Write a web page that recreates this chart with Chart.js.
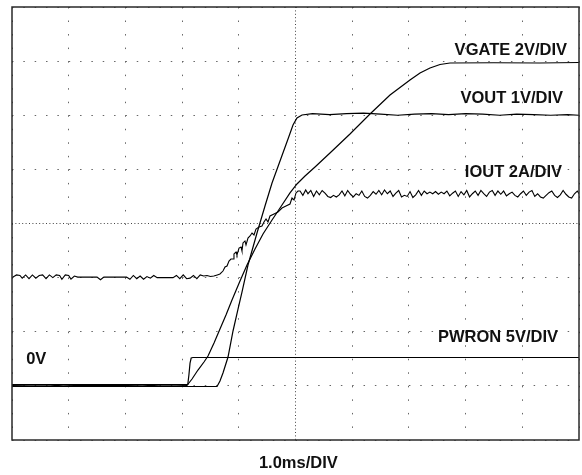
<!DOCTYPE html>
<html><head><meta charset="utf-8">
<script src="https://cdn.jsdelivr.net/npm/chart.js@4.4.1/dist/chart.umd.min.js"></script>
<style>html,body{margin:0;padding:0;background:#fff}#wrap{width:582px;height:475px;position:relative}</style>
</head><body><div id="wrap"><canvas id="c"></canvas></div>
<script>
// Oscilloscope screen: 10 horizontal divisions x 8 vertical divisions (values in divisions)
const xDivisions = [0, 10];
const yDivisions = [0, 8];
const timeBaseLabel = '1.0ms/DIV';
const traceLabels = ['VGATE 2V/DIV', 'VOUT 1V/DIV', 'IOUT 2A/DIV', 'PWRON 5V/DIV', '0V'];

const pwronX = [0, 3.10, 3.12, 3.14, 3.16, 3.19, 10];
const pwronY = [1.025, 1.025, 1.20, 1.42, 1.515, 1.524, 1.524];

const voutX = [0, 3.616, 3.668, 3.721, 3.810, 3.898, 3.986, 4.056, 4.162, 4.321, 4.462, 4.586, 4.727, 4.868, 4.956, 5.026, 5.115,
  5.3, 5.6, 5.9, 6.2, 6.5, 6.8, 7.1, 7.4, 7.7, 8.0, 8.3, 8.6, 8.9, 9.2, 9.5, 9.8, 10];
const voutY = [0.988, 0.988, 1.090, 1.238, 1.533, 2.014, 2.420, 2.734, 3.233, 3.824, 4.323, 4.748, 5.155, 5.561, 5.820, 5.949, 6.005,
  6.03, 6.01, 6.03, 6.04, 6.02, 6.00, 6.02, 6.03, 6.01, 6.03, 6.02, 6.00, 6.02, 6.01, 6.00, 6.01, 6.00];

const vgateX = [0, 0.6, 0.9, 1.5, 2.3, 2.7, 3.086, 3.175, 3.280, 3.386, 3.457, 3.563, 3.668, 3.774, 3.880, 4.021, 4.145, 4.286, 4.427,
  4.586, 4.762, 4.903, 5.026, 5.168, 5.344, 5.608, 5.961, 6.314, 6.667, 7.019, 7.196, 7.372, 7.549, 7.725, 8.5, 9.3, 10];
const vgateY = [1.007, 1.02, 1.00, 1.015, 1.00, 1.02, 1.007, 1.127, 1.293, 1.441, 1.552, 1.792, 2.051, 2.309, 2.587, 2.938, 3.233, 3.529, 3.806,
  4.065, 4.342, 4.564, 4.730, 4.878, 5.044, 5.303, 5.654, 6.023, 6.374, 6.651, 6.781, 6.873, 6.938, 6.965, 6.97, 6.965, 6.975];

const ioutX = [0.00, 0.08, 0.14, 0.18, 0.24, 0.30, 0.36, 0.42, 0.48, 0.54, 0.60, 0.66, 0.72, 0.78, 0.84, 0.88, 0.94, 1.00, 1.04, 1.10,
  1.16, 1.20, 1.50, 1.56, 1.62, 2.02, 2.08, 2.14, 2.20, 2.26, 2.32, 2.38, 2.44, 2.50, 2.56, 2.62, 2.84, 2.90, 2.96, 3.02, 3.08, 3.14,
  3.20, 3.26, 3.32, 3.38, 3.44, 3.50, 3.56, 3.62,
  3.668, 3.721, 3.757, 3.792, 3.827, 3.862, 3.898, 3.915, 3.951, 3.968, 4.004, 4.039, 4.056, 4.074, 4.109, 4.127, 4.162, 4.198,
  4.233, 4.268, 4.303, 4.356, 4.409, 4.444, 4.480, 4.515, 4.550, 4.621, 4.691, 4.762, 4.832, 4.903, 4.938, 4.974, 5.009, 5.044,
  5.08, 5.13, 5.18, 5.22, 5.27, 5.32, 5.37, 5.42, 5.47, 5.52, 5.57, 5.62, 5.67, 5.72, 5.77, 5.82, 5.87, 5.92, 5.97, 6.02,
  6.07, 6.12, 6.17, 6.22, 6.27, 6.32, 6.37, 6.42, 6.47, 6.52, 6.57, 6.62, 6.67, 6.72, 6.77, 6.82, 6.87, 6.92, 6.97, 7.02,
  7.07, 7.12, 7.17, 7.22, 7.27, 7.32, 7.37, 7.42, 7.47, 7.52, 7.57, 7.62, 7.67, 7.72, 7.77, 7.82, 7.87, 7.92, 7.97, 8.02,
  8.07, 8.12, 8.17, 8.22, 8.27, 8.32, 8.37, 8.42, 8.47, 8.52, 8.57, 8.62, 8.67, 8.72, 8.77, 8.82, 8.87, 8.92, 8.97, 9.02,
  9.07, 9.12, 9.17, 9.22, 9.27, 9.32, 9.37, 9.42, 9.47, 9.52, 9.57, 9.62, 9.67, 9.72, 9.77, 9.82, 9.87, 9.92, 9.97, 10.0];
const ioutY = [3.00, 3.05, 3.04, 2.99, 3.05, 2.98, 3.05, 2.99, 3.04, 3.05, 2.98, 3.05, 3.00, 3.05, 3.04, 2.97, 3.05, 3.04, 2.97, 3.03,
  3.01, 3.01, 3.01, 2.96, 3.01, 3.01, 2.97, 3.04, 2.98, 3.03, 2.97, 3.02, 2.99, 3.04, 3.00, 3.00, 3.00, 3.04, 2.98, 3.05, 2.98, 2.99,
  3.04, 2.98, 3.05, 3.03, 3.04, 3.02, 3.03, 3.05,
  3.067, 3.122, 3.196, 3.215, 3.307, 3.344, 3.344, 3.437, 3.473, 3.418, 3.547, 3.566, 3.492, 3.640, 3.677, 3.603, 3.732, 3.769,
  3.824, 3.788, 3.898, 3.935, 3.954, 4.028, 4.083, 4.028, 4.139, 4.176, 4.212, 4.286, 4.323, 4.360, 4.471, 4.434, 4.564, 4.600,
  4.60, 4.52, 4.62, 4.55, 4.61, 4.50, 4.60, 4.53, 4.61, 4.56, 4.50, 4.48, 4.52, 4.49, 4.53, 4.60, 4.51, 4.61, 4.54, 4.49,
  4.55, 4.52, 4.60, 4.50, 4.47, 4.52, 4.59, 4.54, 4.61, 4.53, 4.62, 4.55, 4.60, 4.50, 4.56, 4.61, 4.49, 4.52, 4.50, 4.59,
  4.48, 4.53, 4.61, 4.52, 4.60, 4.55, 4.58, 4.55, 4.59, 4.54, 4.58, 4.55, 4.60, 4.51, 4.56, 4.60, 4.50, 4.59, 4.53, 4.61,
  4.49, 4.55, 4.60, 4.52, 4.61, 4.55, 4.50, 4.58, 4.61, 4.52, 4.60, 4.54, 4.60, 4.51, 4.55, 4.58, 4.52, 4.49, 4.55, 4.60,
  4.52, 4.58, 4.61, 4.50, 4.55, 4.49, 4.47, 4.52, 4.57, 4.60, 4.52, 4.48, 4.53, 4.61, 4.54, 4.49, 4.47, 4.55, 4.60, 4.55];

function pts(xs, ys) { return xs.map((x, i) => ({x: x, y: ys[i]})); }

// anchor of each label, in divisions (kept apart from the text list)
const labelAnchors = [
  {x: 9.79, y: 7.11, align: 'right'},
  {x: 9.72, y: 6.22, align: 'right'},
  {x: 9.70, y: 4.86, align: 'right'},
  {x: 9.63, y: 1.81, align: 'right'},
  {x: 0.25, y: 1.40, align: 'left'}
];

const FONT = 'bold 16.5px "Liberation Sans", Arial, sans-serif';

const framePlugin = {
  id: 'frame',
  afterDraw(chart) {
    const {ctx, chartArea: a, scales} = chart;
    ctx.save();
    ctx.strokeStyle = '#2a2a2a';
    ctx.lineWidth = 1.5;
    ctx.strokeRect(a.left, a.top, a.right - a.left, a.bottom - a.top);
    ctx.fillStyle = '#111';
    ctx.font = FONT;
    ctx.textBaseline = 'alphabetic';
    traceLabels.forEach((t, i) => {
      const p = labelAnchors[i];
      ctx.textAlign = p.align;
      ctx.fillText(t, scales.x.getPixelForValue(p.x), scales.y.getPixelForValue(p.y));
    });
    ctx.textAlign = 'center';
    ctx.fillText(timeBaseLabel, scales.x.getPixelForValue(5.05), a.bottom + 28);
    ctx.restore();
  }
};

const lineStyle = {borderColor: '#000', borderWidth: 1.2, pointRadius: 0, tension: 0, fill: false};

new Chart(document.getElementById('c'), {
  type: 'line',
  data: {
    datasets: [
      Object.assign({label: 'PWRON', data: pts(pwronX, pwronY)}, lineStyle),
      Object.assign({label: 'VOUT', data: pts(voutX, voutY)}, lineStyle),
      Object.assign({label: 'VGATE', data: pts(vgateX, vgateY)}, lineStyle),
      Object.assign({label: 'IOUT', data: pts(ioutX, ioutY)}, lineStyle, {borderWidth: 1.1})
    ]
  },
  options: {
    responsive: true,
    maintainAspectRatio: false,
    animation: false,
    devicePixelRatio: 1,
    layout: {padding: {left: 12, right: 3, top: 7, bottom: 35}},
    plugins: {legend: {display: false}, tooltip: {enabled: false}},
    scales: {
      x: {
        type: 'linear', min: xDivisions[0], max: xDivisions[1],
        ticks: {display: false, stepSize: 1},
        grid: {color: (c) => c.tick && c.tick.value === 5 ? '#444' : '#666', lineWidth: 1, drawTicks: false},
        border: {display: false, dash: (c) => (c.tick && c.tick.value === 5) ? [1, 2.4] : [1.5, 12.03]}
      },
      y: {
        type: 'linear', min: yDivisions[0], max: yDivisions[1],
        ticks: {display: false, stepSize: 1},
        grid: {color: (c) => c.tick && c.tick.value === 4 ? '#444' : '#666', lineWidth: 1, drawTicks: false},
        border: {display: false, dash: (c) => (c.tick && c.tick.value === 4) ? [1, 2.4] : [1.5, 9.84]}
      }
    }
  },
  plugins: [framePlugin]
});
</script>
</body></html>
